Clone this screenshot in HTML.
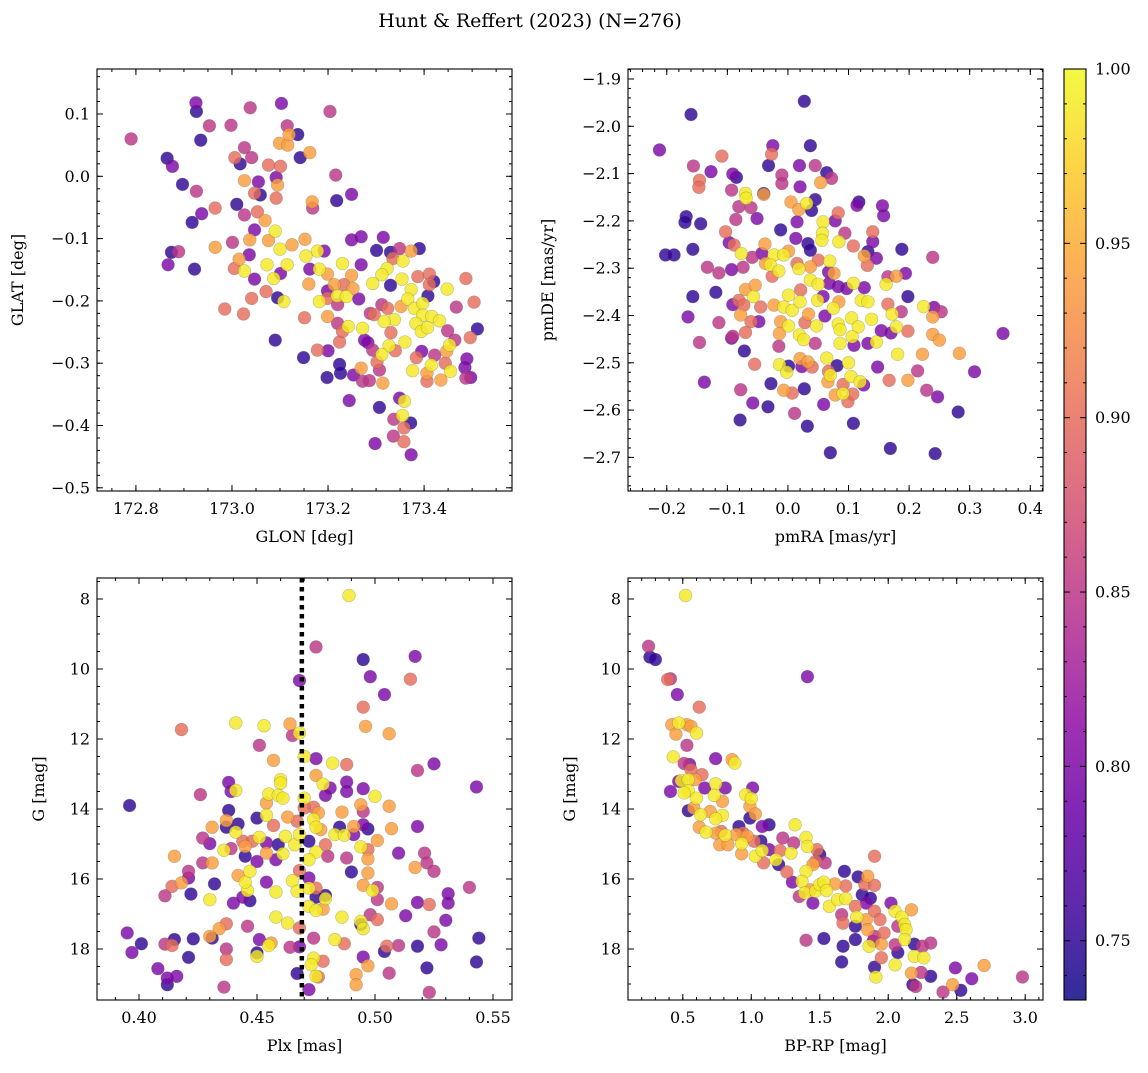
<!DOCTYPE html>
<html><head><meta charset="utf-8"><style>
html,body{margin:0;padding:0;background:#fff;}
svg text{font-family:"DejaVu Serif","Liberation Serif",serif;fill:#000;}
</style></head><body>
<svg id="fig" xmlns="http://www.w3.org/2000/svg" width="1148" height="1068" viewBox="0 0 1148 1068">
<rect width="1148" height="1068" fill="#fff"/>
<text x="530" y="27" font-size="19" text-anchor="middle">Hunt &amp; Reffert (2023) (N=276)</text>
</svg>
<script>
const P=0.75,V=0.80,M=0.85,S=0.90,O=0.94,Y=0.99;
const posData=[[172.790,0.060,M],[172.925,0.118,V],[172.926,0.104,P],[172.953,0.081,M],[172.998,0.082,M],[173.038,0.110,M],[173.103,0.117,V],[173.204,0.104,M],[172.935,0.058,P],[173.115,0.081,M],[173.137,0.067,P],[173.099,0.053,O],[173.116,0.050,O],[173.119,0.067,O],[173.142,0.030,P],[173.162,0.038,O],[172.865,0.029,P],[172.876,0.016,V],[173.026,0.046,M],[173.006,0.030,S],[173.041,0.030,M],[173.017,0.020,P],[173.076,0.018,S],[173.101,0.016,S],[172.897,-0.013,P],[172.926,-0.024,M],[173.026,-0.007,O],[173.055,-0.009,V],[173.092,-0.002,V],[173.095,-0.014,O],[173.047,-0.027,S],[173.059,-0.030,P],[173.092,-0.035,S],[173.216,0.002,M],[173.249,-0.029,V],[173.218,-0.039,P],[173.167,-0.041,O],[173.168,-0.051,M],[173.010,-0.045,P],[172.965,-0.051,S],[172.937,-0.060,V],[172.917,-0.074,P],[173.026,-0.062,M],[173.053,-0.057,S],[173.069,-0.071,O],[173.047,-0.086,V],[173.090,-0.088,Y],[173.037,-0.102,O],[173.001,-0.106,M],[172.965,-0.114,O],[172.874,-0.122,P],[172.889,-0.121,M],[172.867,-0.142,V],[172.922,-0.149,P],[173.076,-0.103,O],[173.100,-0.117,Y],[173.125,-0.110,O],[173.152,-0.101,O],[173.178,-0.120,Y],[173.192,-0.120,V],[173.154,-0.128,Y],[173.036,-0.126,V],[173.015,-0.133,O],[173.005,-0.148,S],[173.026,-0.152,Y],[173.073,-0.142,Y],[173.115,-0.142,Y],[173.101,-0.156,V],[173.087,-0.164,Y],[173.047,-0.165,V],[173.162,-0.149,V],[173.182,-0.149,Y],[173.199,-0.157,O],[173.230,-0.140,Y],[173.249,-0.159,O],[173.269,-0.142,V],[173.249,-0.102,V],[173.269,-0.097,V],[173.315,-0.098,V],[173.301,-0.119,P],[173.330,-0.122,P],[173.349,-0.116,M],[173.373,-0.120,O],[173.390,-0.116,P],[173.356,-0.136,Y],[173.335,-0.132,S],[173.323,-0.148,Y],[173.312,-0.158,Y],[173.293,-0.172,Y],[173.330,-0.175,P],[173.354,-0.165,Y],[173.373,-0.182,Y],[173.387,-0.161,S],[173.411,-0.157,S],[173.420,-0.169,P],[173.411,-0.174,S],[173.408,-0.192,P],[173.448,-0.181,Y],[173.487,-0.164,S],[173.504,-0.202,S],[173.467,-0.210,M],[173.511,-0.245,P],[173.496,-0.259,S],[173.366,-0.197,Y],[173.380,-0.212,Y],[173.397,-0.204,Y],[173.352,-0.209,O],[173.312,-0.206,M],[173.324,-0.212,S],[173.397,-0.223,Y],[173.416,-0.225,Y],[173.432,-0.232,Y],[173.383,-0.236,Y],[173.394,-0.249,Y],[173.407,-0.243,Y],[173.449,-0.248,M],[173.453,-0.271,Y],[173.447,-0.281,O],[173.464,-0.263,M],[173.489,-0.293,V],[173.485,-0.307,V],[173.497,-0.323,V],[173.487,-0.324,M],[173.435,-0.327,O],[173.455,-0.313,Y],[173.444,-0.300,S],[173.415,-0.303,Y],[173.406,-0.316,O],[173.406,-0.329,S],[173.376,-0.312,Y],[173.395,-0.281,V],[173.384,-0.291,S],[173.422,-0.287,M],[173.331,-0.251,S],[173.340,-0.280,S],[173.327,-0.272,Y],[173.312,-0.286,Y],[173.360,-0.266,Y],[173.338,-0.230,Y],[173.317,-0.233,Y],[173.296,-0.222,S],[173.288,-0.220,M],[173.272,-0.244,Y],[173.276,-0.263,V],[173.283,-0.267,V],[173.293,-0.279,M],[173.302,-0.298,S],[173.307,-0.311,M],[173.314,-0.332,O],[173.269,-0.308,O],[173.272,-0.329,M],[173.286,-0.328,M],[173.253,-0.319,V],[173.224,-0.302,P],[173.226,-0.316,P],[173.198,-0.323,P],[173.178,-0.279,S],[173.200,-0.280,V],[173.149,-0.291,P],[173.224,-0.266,S],[173.230,-0.249,S],[173.242,-0.241,Y],[173.220,-0.236,M],[173.199,-0.225,O],[173.151,-0.227,S],[173.090,-0.263,P],[173.182,-0.201,Y],[173.199,-0.184,V],[173.199,-0.196,S],[173.219,-0.192,Y],[173.220,-0.206,M],[173.238,-0.193,Y],[173.252,-0.180,O],[173.233,-0.174,S],[173.213,-0.174,O],[173.160,-0.173,O],[173.264,-0.197,V],[173.108,-0.201,Y],[173.095,-0.195,P],[173.071,-0.185,S],[173.041,-0.196,S],[173.024,-0.221,S],[172.985,-0.213,S],[173.244,-0.360,V],[173.307,-0.371,P],[173.349,-0.356,V],[173.359,-0.361,Y],[173.355,-0.384,Y],[173.372,-0.396,P],[173.337,-0.390,M],[173.358,-0.404,S],[173.336,-0.417,M],[173.358,-0.426,S],[173.298,-0.429,V],[173.373,-0.447,V]];
const pmData=[[0.027,-1.947,P],[-0.160,-1.975,P],[-0.212,-2.050,V],[-0.109,-2.063,S],[-0.156,-2.084,M],[-0.127,-2.096,V],[-0.146,-2.114,S],[-0.147,-2.129,S],[-0.091,-2.101,V],[-0.085,-2.108,P],[-0.093,-2.135,M],[-0.025,-2.041,V],[-0.027,-2.059,S],[-0.032,-2.083,P],[0.037,-2.041,P],[0.019,-2.083,V],[0.045,-2.083,M],[0.064,-2.098,P],[0.072,-2.110,M],[0.054,-2.119,O],[-0.010,-2.103,M],[-0.010,-2.121,M],[0.020,-2.128,V],[-0.070,-2.142,Y],[-0.069,-2.152,Y],[-0.040,-2.142,P],[-0.040,-2.144,O],[-0.081,-2.170,M],[-0.061,-2.172,M],[-0.051,-2.195,V],[-0.086,-2.197,M],[-0.168,-2.191,P],[-0.170,-2.203,P],[-0.144,-2.206,P],[0.005,-2.160,O],[0.018,-2.176,O],[0.031,-2.163,Y],[0.045,-2.155,P],[0.039,-2.178,P],[0.058,-2.202,Y],[0.078,-2.200,V],[0.083,-2.183,S],[0.015,-2.202,V],[-0.012,-2.219,P],[0.013,-2.237,V],[0.057,-2.226,Y],[0.056,-2.241,Y],[0.033,-2.248,P],[0.037,-2.262,P],[0.094,-2.226,M],[0.084,-2.244,Y],[0.108,-2.253,S],[0.117,-2.160,P],[0.114,-2.167,V],[0.156,-2.168,V],[0.158,-2.189,V],[0.140,-2.223,S],[0.140,-2.244,V],[0.132,-2.265,P],[0.126,-2.274,O],[0.146,-2.279,V],[0.131,-2.294,S],[0.188,-2.260,P],[0.239,-2.277,M],[-0.103,-2.223,S],[-0.097,-2.246,V],[-0.089,-2.251,S],[-0.077,-2.269,Y],[-0.059,-2.277,M],[-0.038,-2.249,O],[-0.043,-2.269,V],[-0.037,-2.290,O],[-0.023,-2.272,Y],[-0.007,-2.272,Y],[0.001,-2.264,O],[-0.029,-2.293,Y],[-0.015,-2.306,Y],[-0.026,-2.317,S],[0.015,-2.290,S],[0.018,-2.301,Y],[0.037,-2.297,O],[0.050,-2.283,S],[0.069,-2.285,Y],[0.067,-2.308,V],[0.076,-2.311,O],[0.037,-2.325,Y],[0.050,-2.334,Y],[0.068,-2.332,V],[0.083,-2.339,V],[0.097,-2.343,V],[0.108,-2.332,Y],[0.126,-2.341,V],[0.162,-2.334,Y],[0.179,-2.317,O],[0.194,-2.311,V],[0.165,-2.318,M],[-0.202,-2.272,P],[-0.188,-2.272,P],[-0.157,-2.260,P],[-0.133,-2.298,M],[-0.114,-2.310,M],[-0.093,-2.303,V],[-0.074,-2.298,M],[-0.157,-2.360,P],[-0.119,-2.351,P],[-0.165,-2.403,V],[-0.114,-2.415,M],[-0.146,-2.457,M],[-0.138,-2.541,V],[-0.091,-2.377,V],[-0.081,-2.368,S],[-0.070,-2.345,O],[-0.054,-2.336,O],[-0.057,-2.360,Y],[-0.073,-2.378,S],[-0.045,-2.382,S],[-0.078,-2.399,O],[-0.061,-2.413,S],[-0.048,-2.413,V],[-0.070,-2.436,S],[-0.093,-2.448,V],[-0.091,-2.444,M],[-0.023,-2.378,O],[-0.007,-2.382,Y],[0.007,-2.389,Y],[0.020,-2.371,Y],[0.034,-2.397,O],[0.049,-2.368,Y],[0.058,-2.360,V],[0.061,-2.401,V],[0.001,-2.357,Y],[0.021,-2.346,S],[-0.012,-2.413,O],[0.001,-2.422,Y],[-0.014,-2.438,O],[0.019,-2.441,Y],[0.026,-2.451,Y],[0.028,-2.415,S],[0.047,-2.422,Y],[0.045,-2.459,M],[-0.015,-2.465,M],[0.075,-2.385,Y],[0.084,-2.371,O],[0.083,-2.418,Y],[0.086,-2.430,Y],[0.105,-2.405,Y],[0.116,-2.424,Y],[0.106,-2.445,Y],[0.086,-2.459,Y],[0.109,-2.463,V],[0.121,-2.368,Y],[0.132,-2.371,Y],[0.138,-2.408,Y],[0.146,-2.456,Y],[0.132,-2.459,V],[0.154,-2.432,V],[0.170,-2.437,V],[0.179,-2.424,Y],[0.172,-2.397,Y],[0.165,-2.376,S],[0.187,-2.392,M],[0.198,-2.360,P],[0.224,-2.381,Y],[0.241,-2.383,V],[0.253,-2.392,M],[0.239,-2.403,O],[0.198,-2.433,S],[0.239,-2.440,O],[0.250,-2.452,O],[0.355,-2.438,V],[0.222,-2.482,O],[0.283,-2.480,O],[0.181,-2.482,Y],[0.148,-2.509,V],[0.214,-2.517,M],[0.198,-2.537,O],[0.167,-2.537,S],[0.308,-2.519,V],[0.229,-2.558,M],[0.247,-2.572,V],[0.281,-2.604,P],[0.064,-2.490,Y],[0.100,-2.500,Y],[0.081,-2.506,P],[0.067,-2.518,S],[0.070,-2.526,Y],[0.066,-2.540,O],[0.104,-2.529,Y],[0.119,-2.540,Y],[0.125,-2.547,V],[0.091,-2.546,S],[0.091,-2.565,Y],[0.078,-2.568,O],[0.099,-2.582,S],[0.107,-2.566,S],[0.020,-2.491,O],[0.033,-2.498,O],[0.040,-2.509,S],[0.001,-2.507,P],[-0.014,-2.504,Y],[-0.002,-2.520,Y],[0.023,-2.508,V],[-0.055,-2.503,S],[-0.072,-2.475,P],[-0.028,-2.544,P],[-0.007,-2.558,O],[0.007,-2.564,S],[0.027,-2.555,P],[-0.078,-2.557,M],[-0.058,-2.585,V],[-0.033,-2.593,P],[0.011,-2.607,M],[0.059,-2.588,V],[-0.079,-2.621,P],[0.032,-2.634,P],[0.108,-2.628,P],[0.070,-2.690,P],[0.169,-2.681,P],[0.243,-2.692,P]];
const plxData=[[0.489,7.90,Y],[0.475,9.37,M],[0.495,9.73,P],[0.517,9.64,V],[0.498,10.22,V],[0.515,10.29,S],[0.468,10.33,V],[0.504,10.73,V],[0.495,11.09,S],[0.496,11.64,O],[0.506,11.85,O],[0.418,11.73,S],[0.441,11.54,Y],[0.453,11.62,Y],[0.464,11.57,O],[0.465,11.90,M],[0.468,11.83,Y],[0.451,12.18,M],[0.457,12.61,O],[0.470,12.50,Y],[0.475,12.56,V],[0.482,12.69,Y],[0.488,12.73,S],[0.518,12.90,M],[0.525,12.71,V],[0.543,13.37,V],[0.396,13.90,P],[0.426,13.59,M],[0.438,13.24,V],[0.439,13.50,V],[0.441,13.47,Y],[0.460,13.16,Y],[0.460,13.26,Y],[0.455,13.57,Y],[0.459,13.61,Y],[0.461,13.69,Y],[0.454,13.83,O],[0.454,14.18,Y],[0.438,14.04,P],[0.450,14.26,P],[0.463,14.23,O],[0.470,13.69,Y],[0.474,13.95,S],[0.475,13.04,O],[0.478,13.29,Y],[0.481,13.40,V],[0.479,13.61,V],[0.488,13.23,V],[0.488,13.50,V],[0.495,13.42,V],[0.500,13.64,Y],[0.494,13.88,O],[0.495,14.07,M],[0.486,14.09,O],[0.506,13.92,O],[0.474,14.30,Y],[0.476,14.11,O],[0.475,14.52,Y],[0.477,14.59,O],[0.485,14.52,P],[0.491,14.50,O],[0.495,14.45,V],[0.497,14.57,P],[0.483,14.73,Y],[0.487,14.75,Y],[0.491,14.73,V],[0.501,14.90,O],[0.507,14.56,O],[0.518,14.50,V],[0.494,15.08,Y],[0.497,15.16,S],[0.497,15.43,O],[0.488,15.40,M],[0.480,15.35,M],[0.475,15.23,Y],[0.472,15.45,Y],[0.472,14.92,P],[0.479,15.02,S],[0.510,15.26,V],[0.521,15.26,M],[0.517,15.67,O],[0.522,15.54,M],[0.525,15.78,M],[0.490,15.80,P],[0.497,15.83,O],[0.495,16.18,O],[0.499,16.33,Y],[0.501,16.24,M],[0.501,16.59,M],[0.507,16.71,O],[0.513,17.05,V],[0.540,16.24,M],[0.531,16.42,V],[0.531,16.69,V],[0.518,16.67,V],[0.523,16.73,S],[0.530,17.18,V],[0.498,17.02,M],[0.501,17.16,S],[0.494,17.21,Y],[0.495,17.42,Y],[0.494,17.30,P],[0.486,17.09,Y],[0.475,16.26,S],[0.472,16.26,Y],[0.479,16.47,P],[0.479,16.56,Y],[0.475,16.52,P],[0.472,16.78,Y],[0.475,16.90,Y],[0.478,16.86,O],[0.465,16.05,Y],[0.467,16.35,Y],[0.468,15.76,S],[0.472,15.97,V],[0.458,16.37,Y],[0.454,16.09,V],[0.458,17.09,Y],[0.463,17.26,Y],[0.468,17.40,S],[0.474,17.69,M],[0.483,17.73,Y],[0.487,17.85,S],[0.468,17.94,V],[0.474,18.26,Y],[0.473,18.45,Y],[0.478,18.35,S],[0.475,18.78,Y],[0.476,18.80,S],[0.467,18.70,P],[0.472,19.16,V],[0.492,18.73,O],[0.492,19.02,O],[0.497,18.48,O],[0.495,18.23,V],[0.504,18.07,P],[0.505,17.92,S],[0.510,17.90,M],[0.506,18.69,M],[0.518,17.92,P],[0.525,17.51,M],[0.528,17.88,V],[0.522,18.54,P],[0.523,19.24,M],[0.544,17.69,P],[0.543,18.37,P],[0.464,17.95,M],[0.455,17.90,Y],[0.456,17.83,O],[0.451,17.73,V],[0.450,18.11,P],[0.450,18.21,Y],[0.446,17.35,M],[0.437,17.28,S],[0.434,17.42,O],[0.430,17.64,O],[0.431,17.69,P],[0.423,17.71,P],[0.415,17.73,P],[0.411,17.86,M],[0.414,17.90,S],[0.401,17.85,P],[0.395,17.54,V],[0.397,18.10,V],[0.421,18.24,P],[0.437,18.00,M],[0.437,18.30,S],[0.408,18.56,V],[0.416,18.78,V],[0.412,18.83,V],[0.412,19.02,P],[0.436,19.09,M],[0.430,16.59,Y],[0.422,16.43,P],[0.411,16.48,M],[0.414,16.21,S],[0.418,16.11,O],[0.421,15.78,M],[0.421,15.97,V],[0.432,16.14,P],[0.440,16.69,V],[0.444,16.52,V],[0.447,16.62,P],[0.446,16.33,Y],[0.445,16.09,Y],[0.442,15.90,O],[0.447,15.78,Y],[0.415,15.35,O],[0.427,15.54,M],[0.431,15.54,O],[0.436,15.18,Y],[0.439,15.13,M],[0.427,14.83,M],[0.430,14.99,V],[0.431,14.52,O],[0.437,14.33,O],[0.437,14.52,P],[0.442,14.43,P],[0.441,14.66,Y],[0.444,14.92,S],[0.445,15.07,O],[0.445,15.35,P],[0.450,15.50,V],[0.448,14.92,S],[0.451,14.81,Y],[0.454,14.97,V],[0.454,15.26,O],[0.457,14.47,S],[0.459,15.02,P],[0.461,15.28,Y],[0.458,15.45,V],[0.462,14.78,Y],[0.466,15.02,Y],[0.468,14.73,Y],[0.467,14.35,S],[0.470,13.97,S]];
const cmdData=[[0.52,7.90,Y],[0.25,9.35,M],[0.26,9.66,P],[0.30,9.73,P],[0.39,10.30,S],[0.41,10.28,M],[0.46,10.73,V],[0.62,11.09,S],[1.41,10.22,V],[0.42,11.59,O],[0.47,11.54,Y],[0.53,11.59,O],[0.56,11.64,O],[0.60,11.83,Y],[0.45,11.86,O],[0.53,12.18,M],[0.43,12.51,Y],[0.74,12.56,V],[0.86,12.59,O],[0.88,12.69,Y],[0.51,12.70,M],[0.55,12.73,V],[0.56,12.88,S],[0.64,13.02,S],[0.41,13.50,V],[0.47,13.21,V],[0.49,13.19,Y],[0.54,13.16,Y],[0.59,13.16,O],[0.54,13.48,Y],[0.51,13.54,Y],[0.60,13.69,Y],[0.66,13.40,V],[0.74,13.28,Y],[0.81,13.40,V],[0.73,13.61,Y],[0.79,13.78,O],[1.01,13.40,V],[0.96,13.59,Y],[1.00,13.70,Y],[0.99,13.92,O],[0.54,14.05,P],[0.58,13.97,O],[0.63,14.16,Y],[0.70,14.07,O],[0.79,14.18,Y],[0.74,14.28,Y],[1.03,14.14,O],[0.99,14.26,P],[1.13,14.45,P],[1.08,14.50,V],[1.32,14.45,Y],[0.62,14.52,O],[0.67,14.66,Y],[0.74,14.69,O],[0.78,14.64,S],[0.81,14.75,Y],[0.77,15.02,O],[0.83,15.02,O],[0.91,14.50,P],[0.89,14.73,O],[0.94,14.69,S],[0.93,14.99,Y],[0.97,14.78,O],[1.02,14.92,S],[1.07,14.92,P],[0.93,15.28,O],[1.03,15.35,Y],[1.08,15.19,Y],[1.09,15.54,S],[1.13,15.16,V],[1.18,15.45,Y],[1.20,15.59,P],[1.21,15.19,S],[1.23,14.83,M],[1.29,15.26,Y],[1.31,14.97,M],[1.40,14.81,Y],[1.41,15.07,Y],[1.48,15.16,S],[1.47,15.50,S],[1.50,15.30,P],[1.54,15.54,M],[1.45,15.59,O],[1.40,15.78,Y],[1.26,15.80,S],[1.30,16.09,V],[1.37,16.07,Y],[1.39,16.40,Y],[1.43,16.31,O],[1.47,16.35,Y],[1.50,16.16,Y],[1.53,16.09,Y],[1.55,16.33,Y],[1.61,16.14,O],[1.68,15.78,P],[1.69,16.20,S],[1.78,15.94,P],[1.85,15.92,O],[1.83,16.16,S],[1.90,16.18,S],[1.90,15.35,S],[1.35,16.50,M],[1.45,16.69,V],[1.57,16.78,Y],[1.63,16.59,Y],[1.69,16.56,Y],[1.66,17.02,M],[1.67,17.26,S],[1.76,16.78,S],[1.77,17.09,Y],[1.81,16.45,P],[1.87,16.55,P],[1.84,16.69,V],[1.84,17.16,O],[1.90,16.92,S],[1.94,17.16,S],[1.85,17.45,O],[1.76,17.35,P],[1.76,17.73,P],[1.67,17.92,P],[1.53,17.70,P],[1.40,17.75,M],[1.66,18.37,P],[2.02,16.69,V],[2.05,16.92,Y],[2.10,17.09,Y],[2.12,17.30,Y],[2.13,17.45,Y],[2.17,16.88,O],[2.07,17.35,M],[2.12,17.73,Y],[1.97,17.54,S],[1.90,17.64,M],[1.89,17.78,V],[1.86,17.92,Y],[1.95,17.86,O],[2.05,17.88,M],[2.07,18.10,P],[2.19,17.86,P],[2.25,17.92,M],[2.31,17.83,M],[2.19,18.21,Y],[2.26,18.25,Y],[1.95,18.25,S],[2.05,18.45,Y],[1.90,18.52,P],[1.91,18.80,Y],[2.17,18.69,O],[2.24,18.67,M],[2.31,18.78,P],[2.18,19.02,P],[2.20,19.07,M],[2.40,19.23,M],[2.47,19.02,O],[2.53,19.18,P],[2.49,18.54,V],[2.61,18.85,V],[2.70,18.47,O],[2.98,18.80,M]];
const xTicks1=[172.8,173.0,173.2,173.4], yTicks1=[0.1,0.0,-0.1,-0.2,-0.3,-0.4,-0.5];
const xTicks2=[-0.2,-0.1,0.0,0.1,0.2,0.3,0.4], yTicks2=[-1.9,-2.0,-2.1,-2.2,-2.3,-2.4,-2.5,-2.6,-2.7];
const xTicks3=[0.40,0.45,0.50,0.55], yTicksG=[8,10,12,14,16,18];
const xTicks4=[0.5,1.0,1.5,2.0,2.5,3.0];
const cbTicks=[0.75,0.80,0.85,0.90,0.95,1.00];
const plxLine=0.469;
const cMin=0.733,cMax=1.0;

const NS="http://www.w3.org/2000/svg";
const svg=document.getElementById('fig');
function el(t,a,p){const e=document.createElementNS(NS,t);for(const k in a)e.setAttribute(k,a[k]);(p||svg).appendChild(e);return e;}
const stops=["#0d0887","#41049d","#6a00a8","#8f0da4","#b12a90","#cc4778","#e16462","#f2844b","#fca636","#fcce25","#f0f921"];
function hx(h){return [1,3,5].map(i=>parseInt(h.substr(i,2),16));}
function plasma(t){t=Math.max(0,Math.min(1,t));const f=t*10,i=Math.min(9,Math.floor(f)),r=f-i;const a=hx(stops[i]),b=hx(stops[i+1]);return 'rgb('+a.map((v,k)=>Math.round(v+(b[k]-v)*r)).join(',')+')';}
function cmap(c){return plasma((c-cMin)/(cMax-cMin));}
function dec(v,step){const s=String(step);const d=s.includes('.')?s.split('.')[1].length:0;return v.toFixed(d);}

function panel(o){
  const g=el('g',{});
  
  
  const sx=v=>o.x0+(v-o.xd[0])/(o.xd[1]-o.xd[0])*(o.x1-o.x0);
  const sy=v=>o.y0+(v-o.yd[0])/(o.yd[1]-o.yd[0])*(o.y1-o.y0);
  const clip='clip-'+o.name;
  const cp=el('clipPath',{id:clip},g);el('rect',{x:o.x0,y:o.y0,width:o.x1-o.x0,height:o.y1-o.y0},cp);
  const pts=el('g',{'clip-path':'url(#'+clip+')'},g);
  
  
  const data=o.data.slice().sort((a,b)=>a[2]-b[2]);
  data.forEach(d=>{
    const c=el('circle',{cx:sx(d[0]),cy:sy(d[1]),r:6.4,fill:cmap(d[2]),'fill-opacity':0.82,stroke:'#555','stroke-opacity':0.35,'stroke-width':0.6},pts);
    
    
  });
  if(o.vline!==undefined){
    const l=el('line',{x1:sx(o.vline),x2:sx(o.vline),y1:o.y0,y2:o.y1,stroke:'#000','stroke-width':4.5,'stroke-dasharray':'4.5 4.5'},g);
    
    
  }
  el('rect',{x:o.x0,y:o.y0,width:o.x1-o.x0,height:o.y1-o.y0,fill:'none',stroke:'#000','stroke-width':1.1},g);
  const tk=el('g',{stroke:'#000','stroke-width':1},g);
  // minor ticks
  const xmn=Math.min(...o.xd),xmx=Math.max(...o.xd),ymn=Math.min(...o.yd),ymx=Math.max(...o.yd);
  for(let k=Math.ceil(xmn/o.xminor-1e-6);k*o.xminor<=xmx+1e-9;k++){const X=sx(k*o.xminor);el('line',{x1:X,x2:X,y1:o.y1,y2:o.y1-3},tk);el('line',{x1:X,x2:X,y1:o.y0,y2:o.y0+3},tk);}
  for(let k=Math.ceil(ymn/o.yminor-1e-6);k*o.yminor<=ymx+1e-9;k++){const Yv=sy(k*o.yminor);el('line',{x1:o.x0,x2:o.x0+3,y1:Yv,y2:Yv},tk);el('line',{x1:o.x1,x2:o.x1-3,y1:Yv,y2:Yv},tk);}
  o.xt.forEach(v=>{const X=sx(v);el('line',{x1:X,x2:X,y1:o.y1,y2:o.y1-6},tk);el('line',{x1:X,x2:X,y1:o.y0,y2:o.y0+6},tk);
    const t=el('text',{x:X,y:o.y1+23,'font-size':16,'text-anchor':'middle'},g);t.textContent=dec(v,o.xstep).replace('-','\u2212');
    });
  o.yt.forEach(v=>{const Yv=sy(v);el('line',{x1:o.x0,x2:o.x0+6,y1:Yv,y2:Yv},tk);el('line',{x1:o.x1,x2:o.x1-6,y1:Yv,y2:Yv},tk);
    const t=el('text',{x:o.x0-7,y:Yv+5.5,'font-size':16,'text-anchor':'end'},g);t.textContent=dec(v,o.ystep).replace('-','\u2212');
    });
  const xl=el('text',{x:(o.x0+o.x1)/2,y:o.y1+51,'font-size':16,'text-anchor':'middle'},g);xl.textContent=o.xlab;
  
  const yx=o.x0-o.ylabOff,yy=(o.y0+o.y1)/2;
  const yl=el('text',{x:yx,y:yy,'font-size':16,'text-anchor':'middle',transform:'rotate(-90 '+yx+' '+yy+')'},g);yl.textContent=o.ylab;
  
}
panel({name:'glon-glat-panel',data:posData,x0:97,x1:512,y0:69,y1:491,xd:[172.719,173.583],yd:[0.1+45/623,0.1-377/623],xt:xTicks1,yt:yTicks1,xstep:0.1,ystep:0.1,xminor:0.05,yminor:0.02,xlab:'GLON [deg]',ylab:'GLAT [deg]',ylabOff:74});
panel({name:'pm-panel',data:pmData,x0:628,x1:1043,y0:69,y1:491,xd:[-0.264,0.421],yd:[-1.9+10/473,-1.9-412/473],xt:xTicks2,yt:yTicks2,xstep:0.1,ystep:0.1,xminor:0.02,yminor:0.02,xlab:'pmRA [mas/yr]',ylab:'pmDE [mas/yr]',ylabOff:75});
panel({name:'plx-g-panel',data:plxData,x0:97,x1:512,y0:578,y1:1000,xd:[0.40-42/2360,0.55+19/2360],yd:[8-21/35,8+401/35],xt:xTicks3,yt:yTicksG,xstep:0.01,ystep:1,xminor:0.01,yminor:0.5,xlab:'Plx [mas]',ylab:'G [mag]',ylabOff:53,vline:plxLine});
panel({name:'cmd-panel',data:cmdData,x0:628,x1:1043,y0:578,y1:1000,xd:[0.1,3.13],yd:[8-21/35,8+401/35],xt:xTicks4,yt:yTicksG,xstep:0.1,ystep:1,xminor:0.1,yminor:0.5,xlab:'BP-RP [mag]',ylab:'G [mag]',ylabOff:53});

// colorbar
const cb=el('g',{});


const cx0=1064,cx1=1086,cy0=69,cy1=1000;
const cy=v=>cy1-(v-cMin)/(cMax-cMin)*(cy1-cy0);
const defs=el('defs',{},cb);const lg=el('linearGradient',{id:'cbg',x1:0,y1:1,x2:0,y2:0},defs);
for(let i=0;i<=20;i++){el('stop',{offset:i/20,'stop-color':plasma(i/20),'stop-opacity':0.85},lg);}
el('rect',{x:cx0,y:cy0,width:cx1-cx0,height:cy1-cy0,fill:'url(#cbg)',stroke:'#000','stroke-width':1.1},cb);
for(let k=74;k<=100;k++){const v=k/100;if(v<cMin)continue;const Yv=cy(v);const major=k%5===0;el('line',{x1:cx1,x2:cx1-(major?6:3),y1:Yv,y2:Yv,stroke:'#000','stroke-width':1},cb);el('line',{x1:cx0,x2:cx0+(major?6:3),y1:Yv,y2:Yv,stroke:'#000','stroke-width':1},cb);}
cbTicks.forEach(v=>{const t=el('text',{x:cx1+9,y:cy(v)+5.5,'font-size':16},cb);t.textContent=v.toFixed(2);
  });
</script>
</body></html>
